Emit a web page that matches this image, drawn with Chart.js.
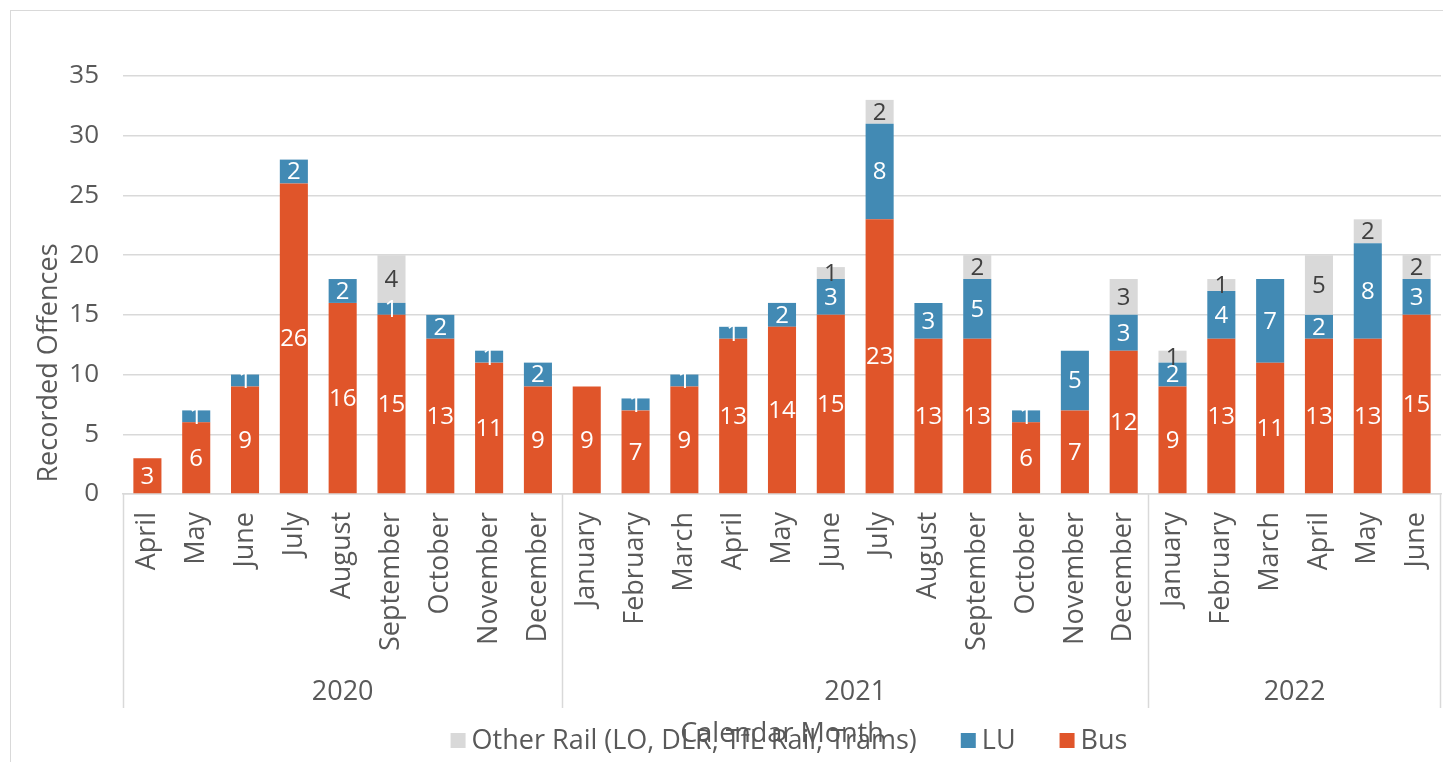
<!DOCTYPE html>
<html>
<head>
<meta charset="utf-8">
<script src="https://cdn.jsdelivr.net/npm/chart.js@4.4.1/dist/chart.umd.min.js"></script>
<style>
  html, body { margin: 0; padding: 0; background: #fff; overflow: hidden; }
  #wrap { position: relative; width: 1443px; height: 762px; }
  #frame { position: absolute; left: 10px; top: 10px; width: 1500px; height: 800px;
           border: 1.5px solid #d9d9d9; box-sizing: border-box; }
  canvas { position: absolute; left: 0; top: 0; }
</style>
</head>
<body>
<div id="wrap">
  <div id="frame"></div>
  <canvas id="chart" width="1443" height="762"></canvas>
</div>
<script>
// months, grouped by calendar year
const months = [
  'April', 'May', 'June', 'July', 'August', 'September', 'October', 'November', 'December',
  'January', 'February', 'March', 'April', 'May', 'June', 'July', 'August', 'September',
  'October', 'November', 'December',
  'January', 'February', 'March', 'April', 'May', 'June'
];
const years = ['2020', '2021', '2022'];
const monthsPerYear = [9, 12, 6];

const busValues       = [3, 6, 9, 26, 16, 15, 13, 11, 9,  9, 7, 9, 13, 14, 15, 23, 13, 13, 6, 7, 12,  9, 13, 11, 13, 13, 15];
const luValues        = [0, 1, 1, 2, 2, 1, 2, 1, 2,  0, 1, 1, 1, 2, 3, 8, 3, 5, 1, 5, 3,  2, 4, 7, 2, 8, 3];
const otherRailValues = [0, 0, 0, 0, 0, 4, 0, 0, 0,  0, 0, 0, 0, 0, 1, 2, 0, 2, 0, 0, 3,  1, 1, 0, 5, 2, 2];

const yMax = 35;
const yStep = 5;

const FONT = '"Open Sans", "Noto Sans", sans-serif';
const TEXT = '#595959';
const LINE = '#d9d9d9';

// value labels in the middle of each stacked segment
const segmentLabels = {
  id: 'segmentLabels',
  afterDatasetsDraw(chart) {
    const ctx = chart.ctx;
    ctx.save();
    ctx.font = '24px ' + FONT;
    ctx.textAlign = 'center';
    ctx.textBaseline = 'middle';
    chart.data.datasets.forEach((ds, i) => {
      const meta = chart.getDatasetMeta(i);
      meta.data.forEach((bar, j) => {
        const v = ds.data[j];
        if (!v) return;
        ctx.fillStyle = ds.labelColor;
        ctx.fillText(String(v), bar.x, (bar.y + bar.base) / 2 + 1);
      });
    });
    ctx.restore();
  }
};

// year row under the month labels, axis titles and legend
const extras = {
  id: 'extras',
  afterDraw(chart) {
    const ctx = chart.ctx;
    const x = chart.scales.x;
    const area = chart.chartArea;
    const half = (x.getPixelForValue(1) - x.getPixelForValue(0)) / 2;
    ctx.save();

    // group separators + year labels
    ctx.strokeStyle = LINE;
    ctx.lineWidth = 1.5;
    ctx.fillStyle = TEXT;
    ctx.font = '27px ' + FONT;
    ctx.textAlign = 'center';
    ctx.textBaseline = 'middle';
    let start = 0;
    const edges = [x.getPixelForValue(0) - half];
    monthsPerYear.forEach((n, g) => {
      const left = x.getPixelForValue(start) - half;
      const right = x.getPixelForValue(start + n - 1) + half;
      edges.push(right);
      ctx.fillText(years[g], (left + right) / 2, 692);
      start += n;
    });
    edges.forEach(px => {
      const p = Math.min(Math.round(px), 1440) + 0.5;
      ctx.beginPath();
      ctx.moveTo(p, area.bottom);
      ctx.lineTo(p, 708);
      ctx.stroke();
    });

    // y axis title
    ctx.save();
    ctx.translate(49, 363);
    ctx.rotate(-Math.PI / 2);
    ctx.fillText('Recorded Offences', 0, 0);
    ctx.restore();

    // x axis title
    const mid = (area.left + area.right) / 2;
    ctx.fillText('Calendar Month', mid, 734);

    // legend (reverse dataset order, like the source)
    const items = chart.data.datasets.slice().reverse();
    const box = 15, gapText = 6, gapItem = 44;
    let total = 0;
    items.forEach((ds, k) => {
      total += box + gapText + ctx.measureText(ds.label).width + (k < items.length - 1 ? gapItem : 0);
    });
    let lx = mid + 7 - total / 2;
    ctx.textAlign = 'left';
    items.forEach(ds => {
      ctx.fillStyle = ds.backgroundColor;
      ctx.fillRect(lx, 733, box, box);
      lx += box + gapText;
      ctx.fillStyle = TEXT;
      ctx.fillText(ds.label, lx, 741);
      lx += ctx.measureText(ds.label).width + gapItem;
    });

    ctx.restore();
  }
};

new Chart(document.getElementById('chart'), {
  type: 'bar',
  data: {
    labels: months,
    datasets: [
      { label: 'Bus', data: busValues, backgroundColor: '#e0552a', labelColor: '#ffffff' },
      { label: 'LU', data: luValues, backgroundColor: '#428ab4', labelColor: '#ffffff' },
      { label: 'Other Rail (LO, DLR, TfL Rail, Trams)', data: otherRailValues,
        backgroundColor: '#d9d9d9', labelColor: '#404040' }
    ]
  },
  options: {
    responsive: false,
    animation: false,
    layout: { padding: { left: 0, right: 2, top: 76, bottom: 0 } },
    datasets: { bar: { categoryPercentage: 1, barPercentage: 0.575, borderWidth: 0 } },
    plugins: {
      legend: { display: false },
      title: { display: false },
      tooltip: { enabled: false }
    },
    scales: {
      x: {
        stacked: true,
        grid: { display: false, drawTicks: false, tickLength: 0 },
        border: { display: true, color: LINE, width: 1.5 },
        ticks: {
          color: TEXT, font: { family: FONT, size: 27 },
          minRotation: 90, maxRotation: 90, padding: 18, autoSkip: false
        },
        afterFit(scale) {
          scale.height = 762 - 494;
          scale.paddingLeft = 0;
          scale.paddingRight = 0;
        }
      },
      y: {
        stacked: true,
        min: 0, max: yMax,
        grid: { color: LINE, lineWidth: 1.5, drawTicks: false, tickLength: 0 },
        border: { display: false },
        ticks: { stepSize: yStep, color: TEXT, font: { family: FONT, size: 26 }, padding: 24 },
        afterFit(scale) { scale.width = 123; }
      }
    }
  },
  plugins: [segmentLabels, extras]
});
</script>
</body>
</html>
